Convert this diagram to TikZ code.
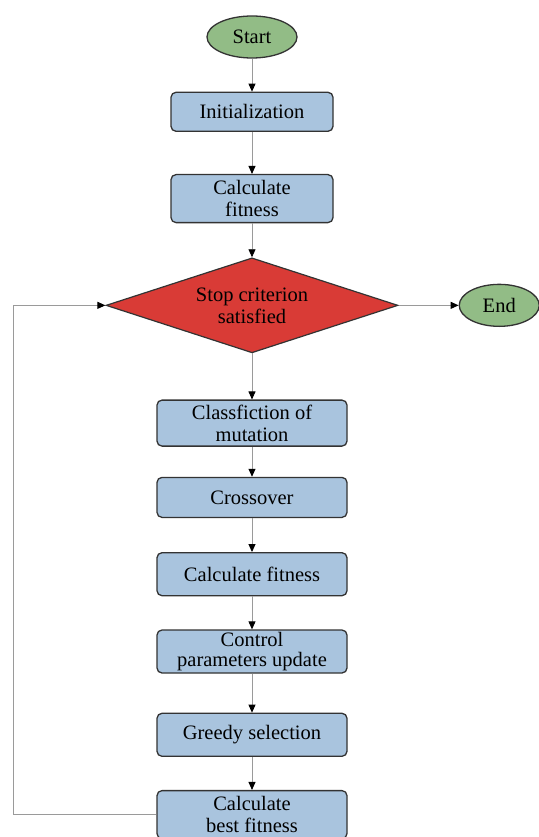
\documentclass[tikz,border=0pt]{standalone}
\usepackage{fontspec}
\setmainfont{Liberation Serif}
\usetikzlibrary{arrows.meta,%
                positioning,%
                shapes.geometric}

\definecolor{boxblue}{HTML}{A9C4DE}
\definecolor{termgreen}{HTML}{92BC86}
\definecolor{decred}{HTML}{D93B36}
\definecolor{edgegray}{HTML}{9A9A9A}

\begin{document}
\begin{tikzpicture}[x=1pt,y=1pt]
  \tikzset{every node/.style = {font=\fontsize{20.5}{22}\selectfont,
                                align=center,
                                inner sep=2pt},
           ProcStyle/.style = {rectangle, rounded corners=5pt,
                               draw=black!80, line width=1.3pt,
                               fill=boxblue, minimum width=162pt},
           TermStyle/.style = {ellipse, draw=black!80, line width=1.3pt,
                               fill=termgreen, minimum width=90pt,
                               minimum height=42pt, inner sep=0pt},
           DecStyle/.style = {diamond, aspect=3, draw=black!80, line width=1.2pt,
                              fill=decred, inner sep=0pt,
                              minimum width=292pt, minimum height=95pt},
           EdgeStyle/.style = {draw=edgegray, line width=0.9pt,
                               -{Triangle[length=8pt,width=7pt,color=black]}}}
  \useasboundingbox (0,0) rectangle (538,-837);

  % upper part
  \node[TermStyle] (start) at (252,-37) {Start};
  \node[ProcStyle, minimum height=39pt, below=33pt of start] (init) {Initialization};
  \node[ProcStyle, minimum height=48pt, below=42pt of init] (fit) {Calculate\\fitness};
  \node[DecStyle, below=34pt of fit] (dec) {Stop criterion\\satisfied};
  \node[TermStyle, minimum width=80pt, right=60pt of dec] (end) {End};

  % loop body
  \tikzset{ProcStyle/.append style = {minimum width=190pt}}
  \node[ProcStyle, minimum height=46pt, below=46pt of dec] (mut) {Classfiction of\\mutation};
  \node[ProcStyle, minimum height=40pt, below=30pt of mut] (cross) {Crossover};
  \node[ProcStyle, minimum height=43pt, below=34pt of cross] (fit2) {Calculate fitness};
  \node[ProcStyle, minimum height=43pt, below=33pt of fit2, inner sep=0pt] (ctrl) {Control\\[-2pt]parameters update};
  \node[ProcStyle, minimum height=43pt, below=39pt of ctrl] (greedy) {Greedy selection};
  \node[ProcStyle, minimum height=48pt, below=33pt of greedy] (best) {Calculate\\best fitness};

  \draw[EdgeStyle] (start) -- (init);
  \draw[EdgeStyle] (init) -- (fit);
  \draw[EdgeStyle] (fit) -- (dec);
  \draw[EdgeStyle] (dec) -- (end);
  \draw[EdgeStyle] (dec) -- (mut);
  \draw[EdgeStyle] (mut) -- (cross);
  \draw[EdgeStyle] (cross) -- (fit2);
  \draw[EdgeStyle] (fit2) -- (ctrl);
  \draw[EdgeStyle] (ctrl) -- (greedy);
  \draw[EdgeStyle] (greedy) -- (best);
  \draw[EdgeStyle] (best.west) -- ++(-143,0) |- (dec.west);

\end{tikzpicture}
\end{document}
